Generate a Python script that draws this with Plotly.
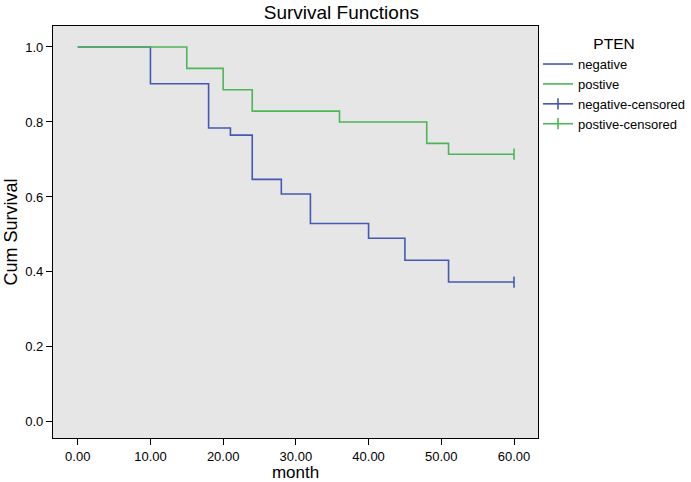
import plotly.graph_objects as go

# Kaplan-Meier step data (time, survival)
neg_time = [0, 10, 18, 21, 24, 28, 32, 40, 45, 51, 60]
neg_surv = [1.0, 0.902, 0.784, 0.765, 0.647, 0.608, 0.529, 0.490, 0.431, 0.373, 0.373]
pos_time = [0, 15, 20, 24, 36, 48, 51, 60]
pos_surv = [1.0, 0.943, 0.886, 0.829, 0.800, 0.743, 0.714, 0.714]
neg_cens_time = [60]
neg_cens_surv = [0.373]
pos_cens_time = [60]
pos_cens_surv = [0.714]

x_ticks = [0, 10, 20, 30, 40, 50, 60]
y_ticks = [0.0, 0.2, 0.4, 0.6, 0.8, 1.0]

BLUE = "#4559b2"
GREEN = "#4db657"

fig = go.Figure()
fig.add_trace(go.Scatter(x=neg_time, y=neg_surv, mode="lines", line_shape="hv",
                         line=dict(color=BLUE, width=1.6), name="negative"))
fig.add_trace(go.Scatter(x=pos_time, y=pos_surv, mode="lines", line_shape="hv",
                         line=dict(color=GREEN, width=1.6), name="postive"))
fig.add_trace(go.Scatter(x=neg_cens_time, y=neg_cens_surv, mode="lines+markers",
                         line=dict(color=BLUE, width=1.6),
                         marker=dict(symbol="line-ns", size=8, color=BLUE,
                                     line=dict(color=BLUE, width=1.6)),
                         name="negative-censored"))
fig.add_trace(go.Scatter(x=pos_cens_time, y=pos_cens_surv, mode="lines+markers",
                         line=dict(color=GREEN, width=1.6),
                         marker=dict(symbol="line-ns", size=8, color=GREEN,
                                     line=dict(color=GREEN, width=1.6)),
                         name="postive-censored"))

fig.update_layout(
    width=691, height=482,
    margin=dict(l=53, r=153, t=26, b=44, autoexpand=False),
    paper_bgcolor="white", plot_bgcolor="#e6e6e6",
    font=dict(family="Liberation Sans, Arial, sans-serif", color="black", size=13),
    title=dict(text="Survival Functions", x=0.494, xref="container", xanchor="center",
               y=0.975, yref="container", yanchor="middle",
               font=dict(size=19)),
    showlegend=True,
    legend=dict(x=0.7786, y=0.94, xref="container", yref="container",
                xanchor="left", yanchor="top",
                bgcolor="rgba(0,0,0,0)",
                title=dict(text="PTEN", font=dict(size=15.5), side="top center"),
                font=dict(size=13), tracegroupgap=0, itemwidth=30),
    xaxis=dict(range=[-3.4, 63.3], tickvals=x_ticks, tickformat=".2f",
               showgrid=False, zeroline=False, showline=True, linecolor="black",
               linewidth=1.2, mirror=True, ticks="outside", ticklen=6,
               tickcolor="black", tickwidth=1.2, automargin=False,
               title=dict(text="month", font=dict(size=17), standoff=2)),
    yaxis=dict(range=[-0.043, 1.056], tickvals=y_ticks, tickformat=".1f",
               showgrid=False, zeroline=False, showline=True, linecolor="black",
               linewidth=1.2, mirror=True, ticks="outside", ticklen=6,
               tickcolor="black", tickwidth=1.2, automargin=False,
               title=dict(text="Cum Survival", font=dict(size=18), standoff=2)),
)

fig.write_html("out.html", config={"displayModeBar": False},
               post_script="document.body.style.margin='0px';")
